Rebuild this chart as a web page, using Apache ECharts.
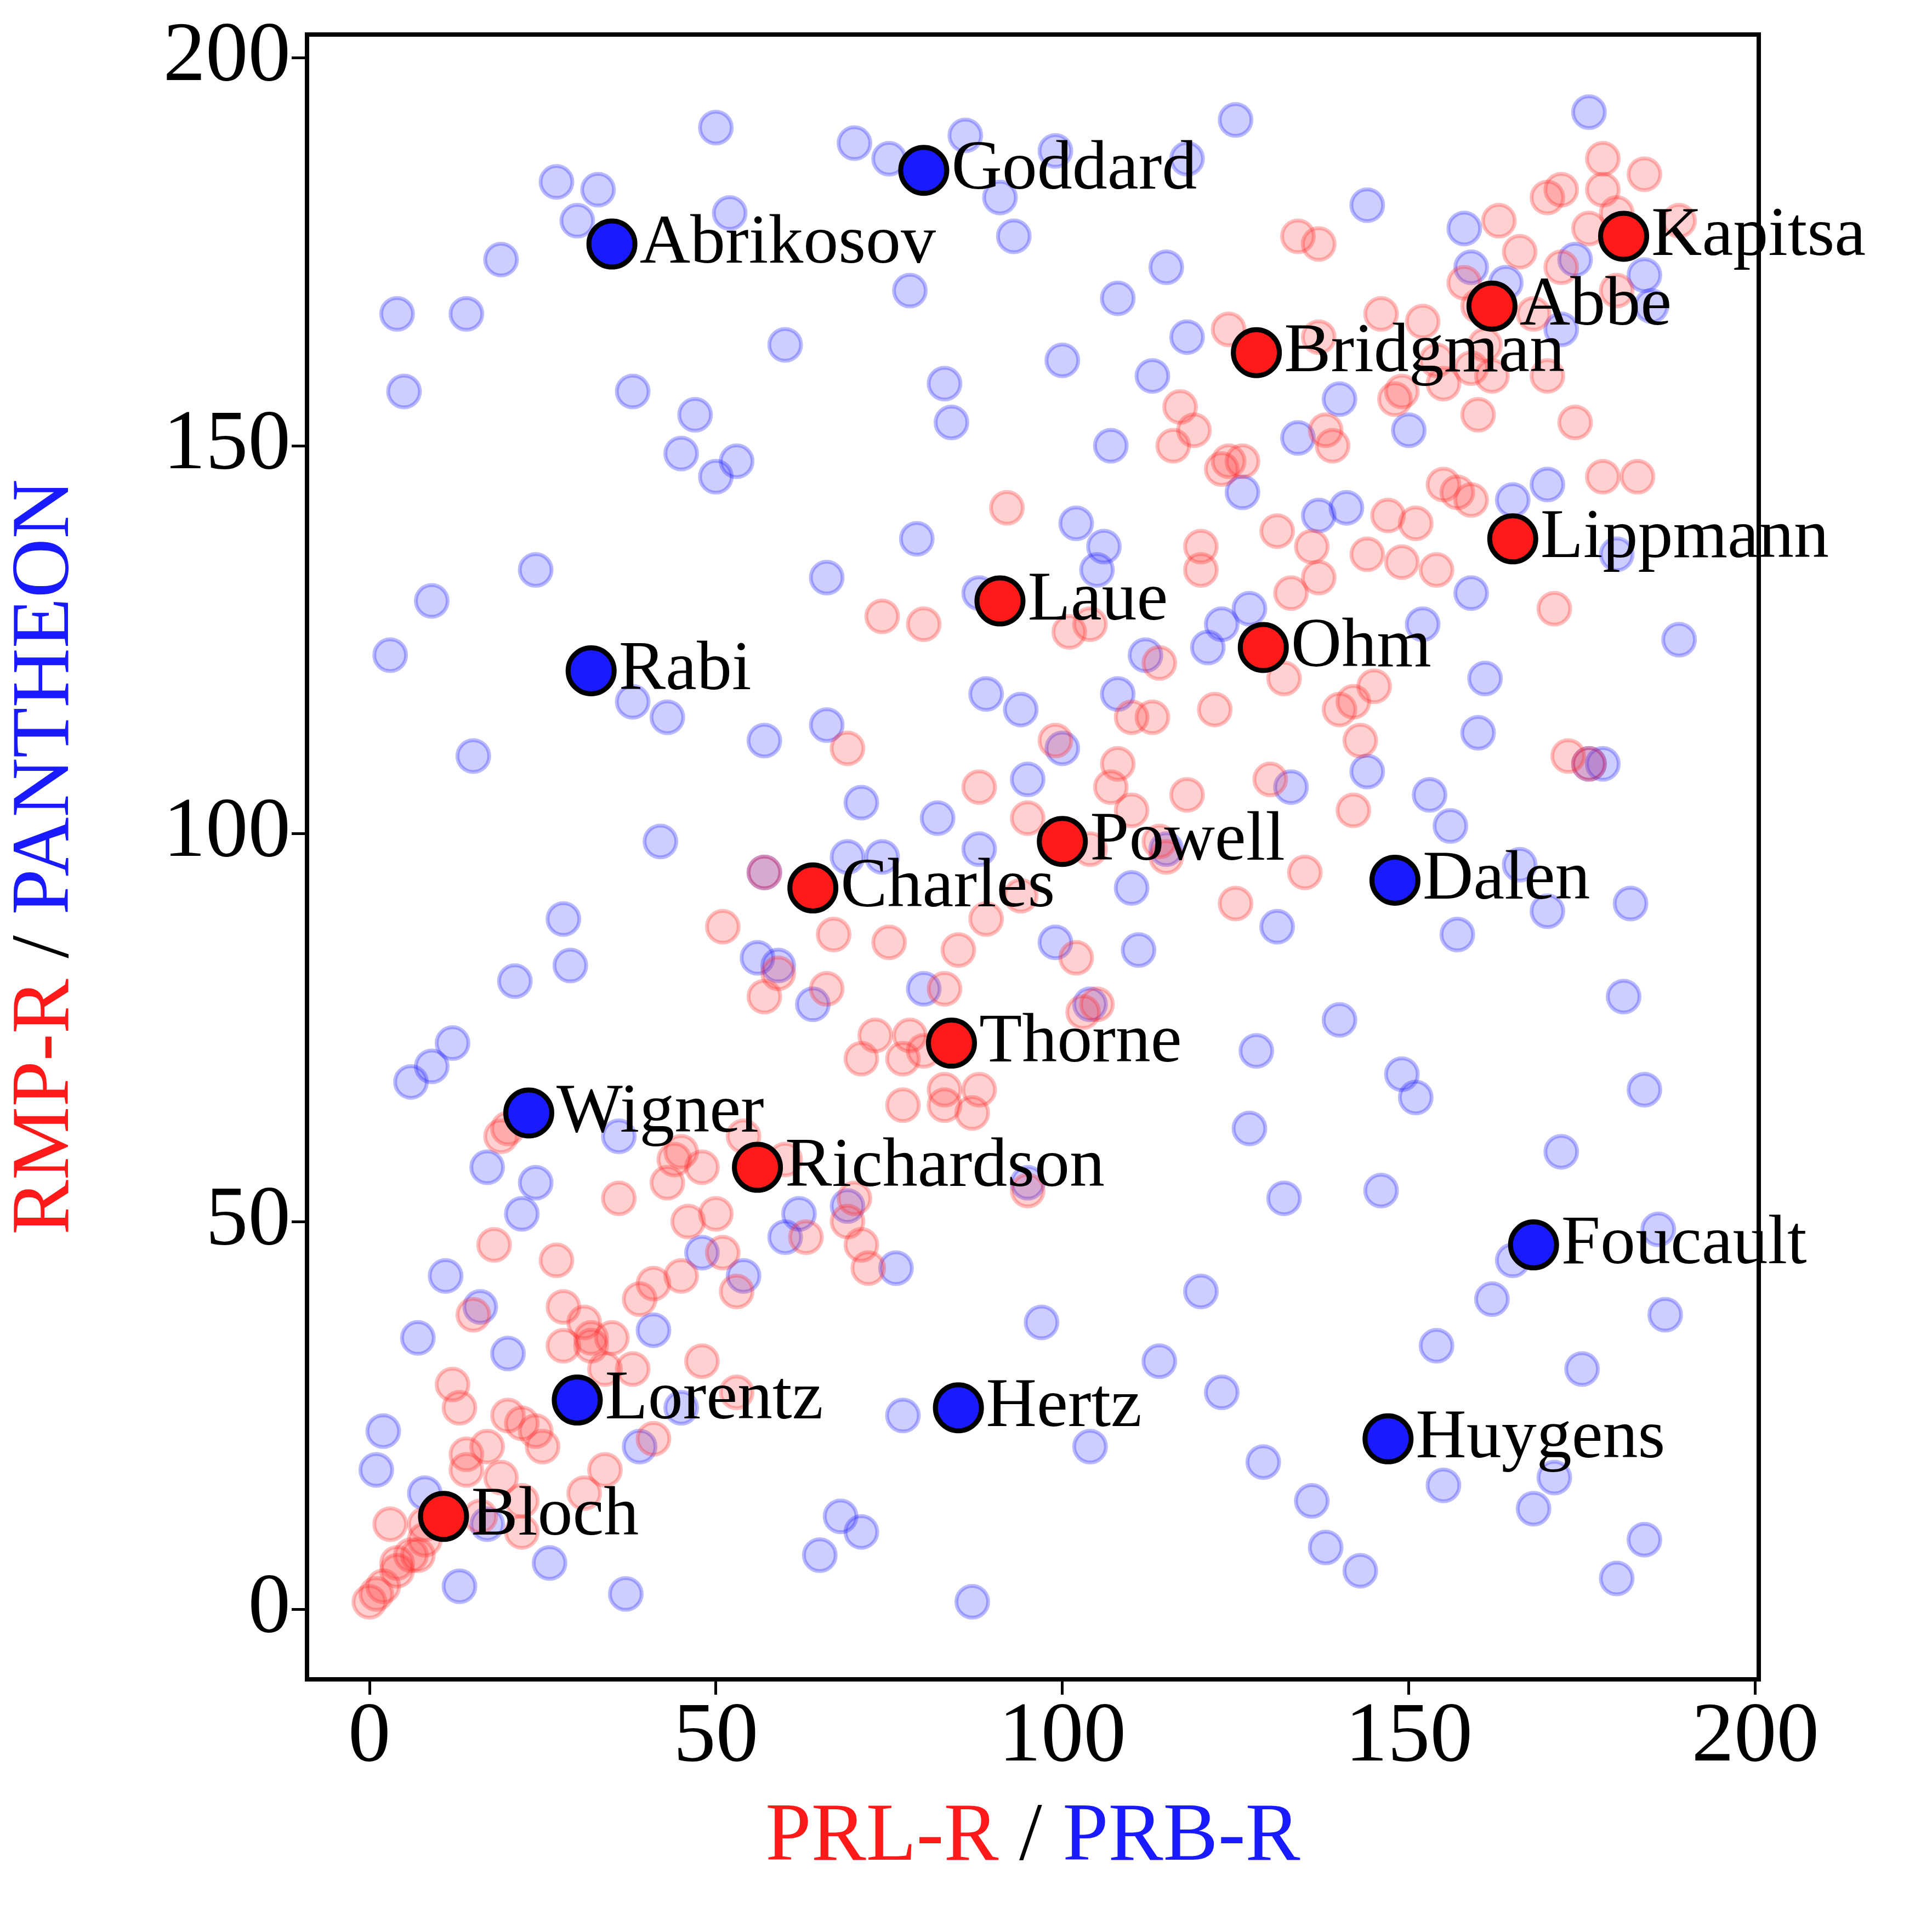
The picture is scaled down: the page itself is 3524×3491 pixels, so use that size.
<!DOCTYPE html>
<html>
<head>
<meta charset="utf-8">
<script src="https://cdn.jsdelivr.net/npm/echarts@6/dist/echarts.min.js"></script>
<style>html,body{margin:0;padding:0;background:#fff}#chart{width:3524px;height:3491px}</style>
</head>
<body>
<div id="chart"></div>
<script>
// faint red points (PRL-R vs RMP-R)
var redPoints = [
[178,187],[184,185],[178,183],[172,183],[170,182],[163,179],[180,180],[189,179],[176,178],[166,175],
[134,177],[137,176],[180,170],[158,171],[172,173],[160,168],[168,167],[146,167],[152,166],[124,165],
[137,164],[161,163],[154,161],[162,159],[170,159],[149,157],[155,158],[159,160],[148,156],[160,154],
[174,153],[117,155],[119,152],[116,150],[124,148],[123,147],[126,148],[138,152],[139,150],[155,145],
[157,144],[159,143],[178,146],[183,146],[92,142],[147,141],[151,140],[131,139],[136,137],[120,137],
[144,136],[149,135],[154,134],[120,134],[137,133],[133,131],[171,129],[74,128],[80,127],[101,126],
[104,127],[114,122],[132,120],[122,116],[142,117],[145,119],[140,116],[110,115],[113,115],[143,112],
[99,112],[108,109],[69,111],[173,110],[176,109],[107,106],[88,106],[118,105],[130,107],[110,103],
[142,103],[95,102],[114,99],[115,97],[104,98],[135,95],[125,91],[94,92],[57,95],[89,89],
[51,88],[75,86],[67,87],[102,84],[85,85],[59,82],[66,80],[57,79],[83,80],[105,78],
[103,77],[73,74],[78,74],[80,72],[71,71],[77,71],[83,67],[88,67],[77,65],[83,65],
[87,64],[45,59],[44,58],[20,62],[19,61],[54,61],[60,58],[48,57],[95,54],[43,55],
[36,53],[70,53],[69,50],[50,51],[46,50],[63,48],[51,46],[18,47],[27,45],[71,47],
[72,44],[45,43],[41,42],[53,41],[39,40],[28,39],[31,37],[32,35],[28,34],[35,35],
[32,34],[15,38],[48,32],[38,31],[34,31],[53,28],[12,29],[13,26],[20,25],[22,24],
[41,22],[24,23],[25,21],[17,21],[14,20],[34,18],[14,18],[19,17],[31,15],[22,14],
[16,12],[8,11],[22,10],[3,11],[8,9],[6,7],[4,5],[2,3],[1,2],[0,1],[4,6],[7,7]
];
// faint blue points (PRB-R vs PANTHEON)
var bluePoints = [
[50,191],[70,189],[86,190],[99,188],[125,192],[176,193],[27,184],[33,183],[30,179],[19,174],
[4,167],[14,167],[5,157],[38,157],[47,154],[45,149],[53,148],[50,146],[52,180],[60,163],
[78,170],[83,158],[84,153],[93,177],[91,182],[75,187],[115,173],[118,187],[144,181],[158,178],
[159,173],[164,171],[100,161],[108,169],[113,159],[118,164],[107,150],[126,144],[134,151],[140,156],
[150,152],[165,143],[170,145],[185,168],[184,172],[172,165],[174,174],[137,141],[141,142],[159,131],
[152,127],[161,120],[160,113],[180,136],[189,125],[176,109],[178,109],[102,140],[106,137],[105,134],
[79,138],[66,133],[88,131],[89,118],[94,116],[108,118],[112,123],[121,124],[123,127],[127,129],
[3,123],[9,130],[24,134],[38,117],[43,115],[15,110],[57,112],[66,114],[71,104],[82,102],
[95,107],[100,111],[42,99],[57,95],[69,97],[74,97],[88,98],[110,93],[115,98],[133,106],
[144,108],[153,105],[156,101],[166,96],[170,90],[182,91],[157,87],[131,88],[111,85],[99,86],
[104,78],[80,80],[64,78],[59,83],[56,84],[28,89],[29,83],[21,81],[12,73],[9,70],
[6,68],[140,76],[128,72],[149,69],[151,66],[181,79],[184,67],[172,59],[127,62],[132,53],
[146,54],[95,55],[36,61],[17,57],[24,55],[22,51],[48,46],[54,43],[60,48],[62,51],
[69,52],[76,44],[186,49],[187,38],[162,40],[165,45],[120,41],[11,43],[16,39],[7,35],
[20,33],[41,36],[154,34],[175,31],[114,32],[123,28],[104,21],[77,25],[129,19],[171,17],
[155,16],[168,13],[136,14],[138,8],[143,5],[180,4],[184,9],[97,37],[68,12],[71,10],
[65,7],[87,1],[37,2],[26,6],[13,3],[2,23],[1,18],[8,15],[17,11],[39,21],[45,26]
];
// labelled points
var redNames = ['Bloch','Richardson','Thorne','Charles','Powell','Laue','Ohm','Lippmann','Bridgman','Abbe','Kapitsa'];
var redValues = [[10.7,12],[56,57],[84,73],[64,93],[100,99],[91,130],[129,124],[165,138],[128,162],[162,168],[181,177]];
var blueNames = ['Goddard','Abrikosov','Rabi','Wigner','Lorentz','Hertz','Huygens','Foucault','Dalen'];
var blueValues = [[80,185.5],[35,176],[32,121],[23,64],[30,27],[85,26],[147,22],[168,47],[148,94]];
var tickValues = [0, 50, 100, 150, 200];

var font = 'Liberation Serif';
function named(names, values) {
    return names.map(function (n, i) { return {name: n, value: values[i]}; });
}
function faint(data, rgb) {
    return {
        type: 'scatter', data: data, symbolSize: 58, silent: true,
        itemStyle: {opacity: 1, color: 'rgba(' + rgb + ',0.22)', borderColor: 'rgba(' + rgb + ',0.3)', borderWidth: 7}
    };
}
function strong(data, color) {
    return {
        type: 'scatter', data: data, symbolSize: 84, z: 5,
        itemStyle: {opacity: 1, color: color, borderColor: '#000', borderWidth: 9},
        label: {show: true, position: 'right', distance: 4, formatter: '{b}',
            fontFamily: font, fontSize: 128, color: '#000', opacity: 1}
    };
}
function axis(nameRich) {
    return {
        type: 'value', nameLocation: 'middle',
        axisLine: {show: true, onZero: false, lineStyle: {color: '#000', width: 8}},
        splitLine: {show: false},
        axisTick: {show: true, customValues: tickValues, length: 28, lineStyle: {color: '#000', width: 5}},
        axisLabel: {customValues: tickValues, fontFamily: font, fontSize: 155, color: '#000', margin: 30},
        nameTextStyle: {fontFamily: font, fontSize: 150, rich: nameRich}
    };
}
var rich = {
    r: {color: '#ff1a1a', fontFamily: font, fontSize: 150},
    k: {color: '#000', fontFamily: font, fontSize: 150},
    b: {color: '#1a1aff', fontFamily: font, fontSize: 150}
};
var xAxis = axis(rich);
xAxis.min = -9; xAxis.max = 200.5;
xAxis.name = '{r|PRL-R} {k|/} {b|PRB-R}';
xAxis.nameGap = 215;
var yAxis = axis(rich);
yAxis.min = -9; yAxis.max = 203;
yAxis.name = '{r|RMP-R} {k|/} {b|PANTHEON}';
yAxis.nameGap = 400;

var chart = echarts.init(document.getElementById('chart'));
chart.setOption({
    animation: false,
    backgroundColor: '#fff',
    grid: {left: 560, right: 316, top: 63, bottom: 428, show: true, borderColor: '#000', borderWidth: 8, backgroundColor: 'transparent'},
    xAxis: xAxis,
    yAxis: yAxis,
    series: [
        faint(bluePoints, '26,26,255'),
        faint(redPoints, '255,40,40'),
        strong(named(redNames, redValues), '#ff1a1a'),
        strong(named(blueNames, blueValues), '#1a1aff')
    ]
});
</script>
</body>
</html>
